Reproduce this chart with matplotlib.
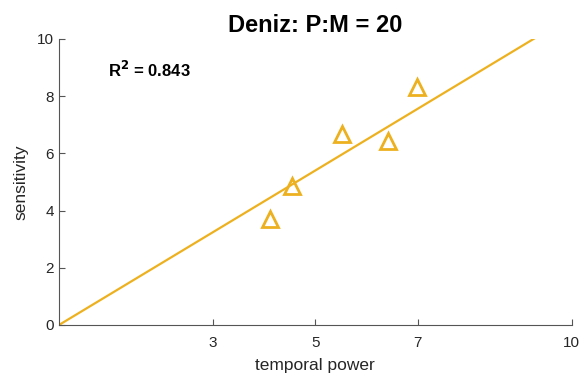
import matplotlib
matplotlib.use("Agg")
import matplotlib.pyplot as plt
import numpy as np

# data
temporal_power = [4.11, 4.54, 5.52, 6.41, 6.98]
sensitivity = [3.71, 4.86, 6.68, 6.43, 8.32]
fit_slope = 1.08
fit_x = [0, 10]
r_squared = 0.843

x_ticks = [3, 5, 7, 10]
y_ticks = [0, 2, 4, 6, 8, 10]

color = "#EDB120"
axis_gray = "#555555"

plt.rcParams["font.family"] = ["Liberation Sans", "DejaVu Sans"]

fig = plt.figure(figsize=(5.84, 3.77), dpi=100)
ax = fig.add_axes([0.101, 0.138, 0.878, 0.759])

ax.plot(
    fit_x,
    [fit_slope * v for v in fit_x],
    color=color,
    linewidth=1.6
)

ax.plot(
    temporal_power,
    sensitivity,
    linestyle="none",
    marker="^",
    markersize=11,
    markerfacecolor="none",
    markeredgecolor=color,
    markeredgewidth=2
)

ax.set_xlim(0, 10)
ax.set_ylim(0, 10)
ax.set_xticks(x_ticks)
ax.set_yticks(y_ticks)

for side in ["top", "right"]:
    ax.spines[side].set_visible(False)

for side in ["left", "bottom"]:
    ax.spines[side].set_color(axis_gray)
    ax.spines[side].set_linewidth(0.8)

ax.tick_params(
    direction="in",
    length=4,
    width=0.8,
    color=axis_gray,
    labelcolor="#262626",
    labelsize=11
)
ax.tick_params(axis="x", pad=8)

ax.set_xlabel("temporal power", fontsize=12.5, color="#262626", labelpad=6)
ax.set_ylabel("sensitivity", fontsize=12.5, color="#262626", labelpad=6)

ax.set_title("Deniz: P:M = 20", fontsize=17, fontweight="bold", pad=5)

ax.text(
    0.95, 8.9,
    "R$^{\\mathbf{2}}$ = %.3f" % r_squared,
    fontsize=12,
    fontweight="bold",
    va="center"
)

fig.savefig("out.png", dpi=100)
